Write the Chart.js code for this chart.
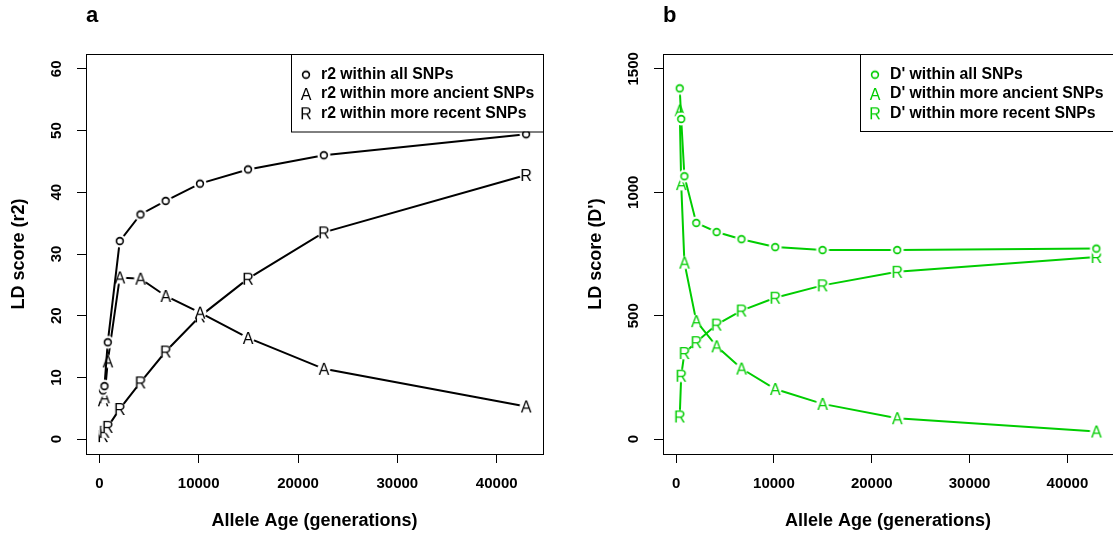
<!DOCTYPE html>
<html lang="en">
<head>
    <meta charset="UTF-8">
    <title>LD score by allele age</title>
    <style>
        html, body {
            margin: 0;
            padding: 0;
            background: #fff;
            overflow: hidden;
        }
        .panel {
            position: absolute;
            top: 0;
            height: 536px;
        }
        #panelA { left: 0; width: 556px; }
        #panelB { left: 556px; width: 564px; }
    </style>
</head>
<body>

    <div class="panel" id="panelA"><canvas id="chartA"></canvas></div>
    <div class="panel" id="panelB"><canvas id="chartB"></canvas></div>

    <script src="https://cdn.jsdelivr.net/npm/chart.js@4.4.1/dist/chart.umd.min.js"></script>
    <script>
        // allele age bins (generations), shared by both panels
        const alleleAge = [370, 520, 850, 2060, 4140, 6680, 10130, 14970, 22600, 42960];

        // panel a: r2
        const r2All     = [7.9, 8.6, 15.7, 32.1, 36.4, 38.6, 41.4, 43.7, 46.0, 49.4];
        const r2Ancient = [6.3, 6.8, 12.6, 26.2, 26.0, 23.2, 20.5, 16.4, 11.4, 5.3];
        const r2Recent  = [0.5, 1.2, 2.0, 4.9, 9.2, 14.2, 19.9, 26.0, 33.5, 42.8];

        // panel b: D'
        const dAll     = [1421, 1297, 1065, 876, 839, 810, 778, 766, 766, 772];
        const dAncient = [1331, 1033, 715, 478, 376, 286, 203, 143, 85, 31];
        const dRecent  = [92, 257, 349, 393, 464, 521, 573, 623, 678, 738];

        const ageTicks = [0, 10000, 20000, 30000, 40000];
        const r2Ticks = [0, 10, 20, 30, 40, 50, 60];
        const dTicks = [0, 500, 1000, 1500];

        const r2Labels = ['r2 within all SNPs', 'r2 within more ancient SNPs', 'r2 within more recent SNPs'];
        const dLabels = ["D' within all SNPs", "D' within more ancient SNPs", "D' within more recent SNPs"];
        const marks = ['o', 'A', 'R'];

        const FAMILY = '"Liberation Sans", Arial, Helvetica, sans-serif';
        Chart.defaults.font.family = FAMILY;
        Chart.defaults.color = '#000';

        // R style plotting characters, with a white gap around them like type="b"
        function makeMark(ch, color) {
            const c = document.createElement('canvas');
            c.width = 18;
            c.height = 18;
            const g = c.getContext('2d');
            g.fillStyle = '#fff';
            g.beginPath();
            g.arc(9, 9, 6.5, 0, Math.PI * 2);
            g.fill();
            if (ch === 'o') {
                g.strokeStyle = color;
                g.lineWidth = 1.6;
                g.beginPath();
                g.arc(9, 9, 3.4, 0, Math.PI * 2);
                g.stroke();
            } else {
                g.font = '16px ' + FAMILY;
                g.fillStyle = color;
                g.textAlign = 'center';
                const m = g.measureText(ch);
                g.fillText(ch, 9, 9 + (m.actualBoundingBoxAscent - m.actualBoundingBoxDescent) / 2);
            }
            return c;
        }

        // full box round the plot region
        const plotBox = {
            id: 'plotBox',
            afterDatasetsDraw(chart) {
                const {ctx, chartArea: a} = chart;
                ctx.save();
                ctx.strokeStyle = '#000';
                ctx.lineWidth = 1;
                ctx.strokeRect(Math.round(a.left) + 0.5, Math.round(a.top) + 0.5,
                    Math.round(a.right - a.left), Math.round(a.bottom - a.top));
                ctx.restore();
            }
        };

        // legend box in the top right corner of the plot
        const rLegend = {
            id: 'rLegend',
            afterDatasetsDraw(chart, args, o) {
                const {ctx, chartArea} = chart;
                const left = Math.round(chartArea.right - o.width);
                const top = Math.round(chartArea.top);
                ctx.save();
                ctx.fillStyle = '#fff';
                ctx.fillRect(left, top, o.width, o.height);
                ctx.strokeStyle = '#000';
                ctx.lineWidth = 1;
                ctx.strokeRect(left + 0.5, top + 0.5, o.width, o.height);
                ctx.font = 'bold 15.8px ' + FAMILY;
                ctx.fillStyle = '#000';
                ctx.textBaseline = 'middle';
                chart.data.datasets.forEach((ds, i) => {
                    const y = top + o.firstRow + i * o.rowGap;
                    const img = ds.pointStyle;
                    ctx.drawImage(img, left + o.symbolX - img.width / 2, y - img.height / 2);
                    ctx.fillText(ds.label, left + o.textX, y);
                });
                ctx.restore();
            }
        };

        function series(ys) {
            return alleleAge.map((x, i) => ({x: x, y: ys[i]}));
        }

        function makeDatasets(labels, values, color) {
            return values.map((v, i) => ({
                label: labels[i],
                data: series(v),
                borderColor: color,
                borderWidth: 2,
                pointStyle: makeMark(marks[i], color),
                pointRadius: 5,
                pointHoverRadius: 5,
                tension: 0,
                fill: false,
            }));
        }

        function makeChart(id, cfg) {
            return new Chart(document.getElementById(id), {
                type: 'line',
                data: {datasets: cfg.datasets},
                plugins: [plotBox, rLegend],
                options: {
                    animation: false,
                    responsive: true,
                    maintainAspectRatio: false,
                    devicePixelRatio: 1,
                    layout: {padding: {left: 0, right: cfg.padRight, top: 0, bottom: 0}},
                    plugins: {
                        legend: {display: false},
                        tooltip: {enabled: false},
                        title: {
                            display: true,
                            text: cfg.panel,
                            align: 'start',
                            fullSize: false,
                            color: '#000',
                            font: {size: 22, weight: 'bold'},
                            padding: {top: 3, bottom: 24.6},
                        },
                        rLegend: cfg.legend,
                    },
                    scales: {
                        x: {
                            type: 'linear',
                            min: -1340,
                            max: 44660,
                            afterBuildTicks: s => { s.ticks = ageTicks.map(v => ({value: v})); },
                            afterFit: s => { s.height = 82; },
                            grid: {drawOnChartArea: false, color: '#000', lineWidth: 1, tickLength: 9},
                            border: {display: false},
                            ticks: {
                                color: '#000',
                                font: {size: 15, weight: 'bold'},
                                padding: 12,
                                maxRotation: 0,
                                autoSkip: false,
                                callback: v => String(v),
                            },
                            title: {
                                display: true,
                                text: 'Allele Age (generations)',
                                color: '#000',
                                font: {size: 18, weight: 'bold'},
                                padding: {top: 0, bottom: 4.5},
                            },
                        },
                        y: {
                            type: 'linear',
                            min: cfg.yMin,
                            max: cfg.yMax,
                            afterBuildTicks: s => { s.ticks = cfg.yTicks.map(v => ({value: v})); },
                            afterFit: s => { s.width = cfg.yWidth; },
                            grid: {drawOnChartArea: false, color: '#000', lineWidth: 1, tickLength: 9},
                            border: {display: false},
                            ticks: {
                                color: '#000',
                                font: {size: 15, weight: 'bold'},
                                minRotation: 90,
                                maxRotation: 90,
                                crossAlign: 'center',
                                padding: cfg.yPad,
                                autoSkip: false,
                                callback: v => String(v),
                            },
                            title: {
                                display: true,
                                text: cfg.yTitle,
                                color: '#000',
                                font: {size: 18, weight: 'bold'},
                                padding: {top: cfg.yTitlePad, bottom: 0},
                            },
                        },
                    },
                },
            });
        }

        makeChart('chartA', {
            panel: 'a',
            datasets: makeDatasets(r2Labels, [r2All, r2Ancient, r2Recent], '#000000'),
            yMin: -2.4, yMax: 62.4, yTicks: r2Ticks,
            yTitle: 'LD score (r2)',
            yWidth: 86, yPad: 11.7, yTitlePad: 8.4, padRight: 13,
            legend: {width: 252, height: 77.5, firstRow: 20.7, rowGap: 19.3, symbolX: 15, textX: 30},
        });

        makeChart('chartB', {
            panel: 'b',
            datasets: makeDatasets(dLabels, [dAll, dAncient, dRecent], '#00cd00'),
            yMin: -60, yMax: 1560, yTicks: dTicks,
            yTitle: "LD score (D')",
            yWidth: 107, yPad: 3.3, yTitlePad: 29.2, padRight: 0,
            legend: {width: 253, height: 77, firstRow: 20.7, rowGap: 19.3, symbolX: 15, textX: 30},
        });
    </script>
</body>
</html>
